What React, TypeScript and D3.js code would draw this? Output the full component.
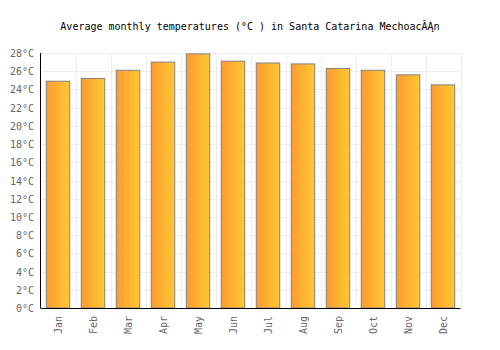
import React from "react";
import * as d3 from "d3";

const months = ["Jan", "Feb", "Mar", "Apr", "May", "Jun", "Jul", "Aug", "Sep", "Oct", "Nov", "Dec"];
const temps = [24.9, 25.2, 26.1, 27.0, 27.9, 27.1, 26.9, 26.8, 26.3, 26.1, 25.6, 24.5];
const yTicks = [0, 2, 4, 6, 8, 10, 12, 14, 16, 18, 20, 22, 24, 26, 28];
const title = "Average monthly temperatures (°C ) in Santa Catarina MechoacĂĄn";

export default function App() {
  const W = 500, H = 350;
  const left = 40.5, right = 460.5, top = 53, bottom = 308;
  const x = d3.scaleBand().domain(months).range([left, right]).paddingInner(0.33).paddingOuter(0.165);
  const xCol = d3.scaleBand().domain(months).range([left, right]);
  const y = d3.scaleLinear().domain([0, 28]).range([bottom, top]);
  const font = "'DejaVu Sans Mono', monospace";
  return (
    <svg width={W} height={H} style={{ position: "absolute", left: 0, top: 0 }}>
      <defs>
        <linearGradient id="barGrad" x1="0" x2="1" y1="0" y2="0">
          <stop offset="0%" stopColor="#ff9a30" />
          <stop offset="100%" stopColor="#ffc933" />
        </linearGradient>
      </defs>
      <rect x={0} y={0} width={W} height={H} fill="#fff" />
      <text x={250} y={30} textAnchor="middle" fontFamily={font} fontSize={10} fill="#000">{title}</text>
      {yTicks.map((t) => (
        <line key={"h" + t} x1={left} x2={right} y1={Math.round(y(t)) + 0.5} y2={Math.round(y(t)) + 0.5} stroke="#eeeeee" strokeWidth={1} />
      ))}
      {months.map((m) => (
        <line key={"v" + m} x1={Math.round(xCol(m)! + xCol.bandwidth()) + 0.5} x2={Math.round(xCol(m)! + xCol.bandwidth()) + 0.5} y1={top} y2={bottom} stroke="#eeeeee" strokeWidth={1} />
      ))}
      {months.map((m, i) => (
        <rect key={"b" + m} x={x(m)!} y={y(temps[i])} width={x.bandwidth()} height={bottom - y(temps[i])} fill="url(#barGrad)" stroke="#808080" strokeWidth={1} />
      ))}
      <line x1={left} x2={left} y1={top} y2={bottom} stroke="#000" strokeWidth={1} />
      <line x1={left} x2={right} y1={bottom + 0.5} y2={bottom + 0.5} stroke="#000" strokeWidth={1} />
      {yTicks.map((t) => (
        <text key={"t" + t} x={34} y={y(t) + 4} textAnchor="end" fontFamily={font} fontSize={10} fill="#666">{t}°C</text>
      ))}
      {months.map((m) => {
        const cx = xCol(m)! + xCol.bandwidth() / 2;
        return (
          <text key={"m" + m} transform={`translate(${cx + 4},${316}) rotate(-90)`} textAnchor="end" fontFamily={font} fontSize={10} fill="#666">{m}</text>
        );
      })}
    </svg>
  );
}
